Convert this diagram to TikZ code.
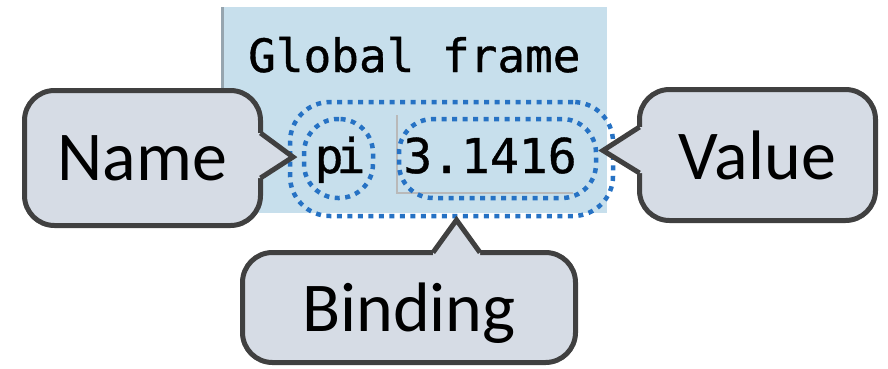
\documentclass[tikz,border=0pt]{standalone}
\usepackage{fontspec}
\newfontfamily\calloutfont{Carlito}
\newfontfamily\framefont[FakeBold=0.8]{DejaVu Sans Mono}
\definecolor{calloutfill}{RGB}{214,220,229}
\definecolor{calloutline}{RGB}{64,64,64}
\definecolor{dotblue}{RGB}{38,114,196}
\definecolor{panelblue}{RGB}{199,223,236}
\definecolor{paneledge}{RGB}{150,165,175}

\begin{document}
\begin{tikzpicture}[x=1pt, y=-1pt,
	callout/.style={draw=calloutline, fill=calloutfill, line width=5pt, rounded corners=30pt, outer sep=0pt, inner sep=0pt, text depth=0pt, font=\calloutfont\fontsize{70}{70}\selectfont},
	dotbox/.style={draw=dotblue, line width=4.5pt, dash pattern=on 5pt off 5.5pt, outer sep=0pt, inner sep=0pt},
	monotext/.style={inner sep=0pt, font=\framefont\fontsize{48}{48}\selectfont}]
	\useasboundingbox (0,0) rectangle (888,368);
	% frame
	\node[fill=panelblue, minimum width=386pt, minimum height=206pt, inner sep=0pt, outer sep=0pt] (frame) at (414,110) {};
	\draw[paneledge, line width=3pt] ([xshift=1.5pt]frame.north west)--([xshift=1.5pt]frame.south west);
	\node[anchor=base west, inner sep=0pt, font=\framefont\fontsize{46}{46}\selectfont] (title) at (248,72) {Global frame};
	\draw[gray!55, line width=1.5pt] (397,115)--(397,193)--(573,193);
	\node[monotext, anchor=base] (pitext) at (340,173) {p\kern-7pt i};
	\node[monotext, anchor=base] (valtext) at (490,173) {3.1416};
	% dotted outlines
	\node[dotbox, minimum width=323pt, minimum height=114pt, rounded corners=40pt] (bind) at (451.5,159) {};
	\node[dotbox, minimum width=69pt, minimum height=79pt, rounded corners=34pt] (pi) at (338.5,158.5) {};
	\node[dotbox, minimum width=197pt, minimum height=79pt, rounded corners=34pt] (val) at (497.5,158.5) {};
	% callouts
	\node[callout, minimum width=236pt, minimum height=135pt] (namebox) at (142.5,158) {Name};
	\node[callout, minimum width=236pt, minimum height=131pt] (valuebox) at (757.5,155) {Value};
	\node[callout, minimum width=333pt, minimum height=110pt] (bindingbox) at (409,307.5) {Binding};
	\fill[calloutfill] ([shift={(-4,-25)}]namebox.east)--([shift={(0,-25)}]namebox.east)--([shift={(3,-2)}]bind.west)--([shift={(0,20)}]namebox.east)--([shift={(-4,20)}]namebox.east)--cycle;
	\draw[calloutline, line width=5pt] ([shift={(0,-25)}]namebox.east)--([shift={(3,-2)}]bind.west)--([shift={(0,20)}]namebox.east);
	\fill[calloutfill] ([shift={(4,-28)}]valuebox.west)--([shift={(0,-28)}]valuebox.west)--([shift={(7,-8)}]val.east)--([shift={(0,18)}]valuebox.west)--([shift={(4,18)}]valuebox.west)--cycle;
	\draw[calloutline, line width=5pt] ([shift={(0,-28)}]valuebox.west)--([shift={(7,-8)}]val.east)--([shift={(0,18)}]valuebox.west);
	\fill[calloutfill] ([shift={(24,4)}]bindingbox.north)--([shift={(24,0)}]bindingbox.north)--([shift={(5,4)}]bind.south)--([shift={(71,0)}]bindingbox.north)--([shift={(71,4)}]bindingbox.north)--cycle;
	\draw[calloutline, line width=5pt] ([shift={(24,0)}]bindingbox.north)--([shift={(5,4)}]bind.south)--([shift={(71,0)}]bindingbox.north);
\end{tikzpicture}
\end{document}
